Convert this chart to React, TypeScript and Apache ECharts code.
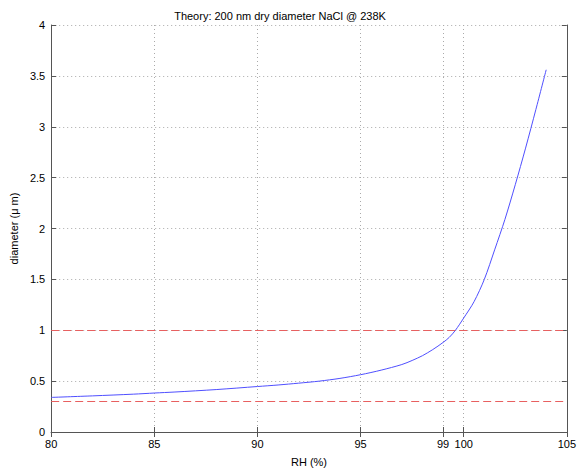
import React, { useEffect, useRef } from "react";
import * as echarts from "echarts";

const rh = [80, 82, 84, 85, 86, 88, 90, 91, 92, 93, 94, 95, 96, 97, 97.5, 98, 98.5, 99, 99.3, 99.6, 100, 100.5, 101, 101.5, 102, 102.5, 103, 103.5, 104];
const diameter = [0.34, 0.355, 0.372, 0.383, 0.393, 0.417, 0.447, 0.462, 0.48, 0.5, 0.527, 0.563, 0.608, 0.663, 0.703, 0.75, 0.81, 0.88, 0.93, 1.0, 1.12, 1.28, 1.5, 1.79, 2.09, 2.43, 2.79, 3.17, 3.56];
const xTicks = [80, 85, 90, 95, 99, 100, 105];
const refLines = [1, 0.3];

const FONT = "Liberation Sans, Arial, Helvetica, sans-serif";

export default function App() {
  const ref = useRef<HTMLDivElement>(null);
  useEffect(() => {
    if (!ref.current) return;
    document.body.style.margin = "0";
    const chart = echarts.init(ref.current, undefined, { renderer: "svg" });
    const axisColor = "#555";
    const gridLine = { show: true, lineStyle: { color: "#aaa", type: [1, 3] as any, width: 1 } };
    const xBase = {
      type: "value" as const,
      min: 80,
      max: 105,
      interval: 1,
      axisLine: { show: true, lineStyle: { color: axisColor, width: 1 } },
      axisTick: { show: true, inside: true, length: 5, customValues: xTicks, lineStyle: { color: axisColor } },
    };
    const yBase = {
      type: "value" as const,
      min: 0,
      max: 4,
      interval: 0.5,
      axisLine: { show: true, lineStyle: { color: axisColor, width: 1 } },
      axisTick: { show: true, inside: true, length: 5, lineStyle: { color: axisColor } },
    };
    chart.setOption({
      animation: false,
      title: {
        text: "Theory: 200 nm dry diameter NaCl @ 238K",
        left: 275,
        top: 5,
        textAlign: "center",
        textStyle: { fontFamily: FONT, fontSize: 11, fontWeight: "normal", color: "#000" },
      },
      grid: { left: 48, right: 11, top: 25, bottom: 36 },
      xAxis: [
        {
          ...xBase,
          position: "bottom",
          name: "RH (%)",
          nameLocation: "middle",
          nameGap: 24,
          nameTextStyle: { fontFamily: FONT, fontSize: 11, color: "#000" },
          axisLabel: { customValues: xTicks, fontFamily: FONT, fontSize: 11, color: "#000", margin: 6 },
          splitLine: gridLine,
        },
        {
          ...xBase,
          position: "top",
          axisLabel: { show: false },
          splitLine: { show: false },
        },
      ],
      yAxis: [
        {
          ...yBase,
          position: "left",
          name: "diameter (\u03bc m)",
          nameLocation: "middle",
          nameGap: 30,
          nameRotate: 90,
          nameTextStyle: { fontFamily: FONT, fontSize: 11, color: "#000" },
          axisLabel: { fontFamily: FONT, fontSize: 11, color: "#000", margin: 6 },
          splitLine: gridLine,
        },
        {
          ...yBase,
          position: "right",
          axisLabel: { show: false },
          splitLine: { show: false },
        },
      ],
      series: [
        {
          type: "line",
          data: rh.map((x, i) => [x, diameter[i]]),
          showSymbol: false,
          symbol: "none",
          smooth: 0.3,
          lineStyle: { color: "#4f4fff", width: 1 },
          markLine: {
            silent: true,
            symbol: "none",
            label: { show: false },
            lineStyle: { color: "#e86060", type: [8, 4] as any, width: 1 },
            data: refLines.map((v) => ({ yAxis: v })),
          },
        },
      ],
    });
    return () => chart.dispose();
  }, []);
  return <div ref={ref} style={{ width: 579, height: 472 }} />;
}
